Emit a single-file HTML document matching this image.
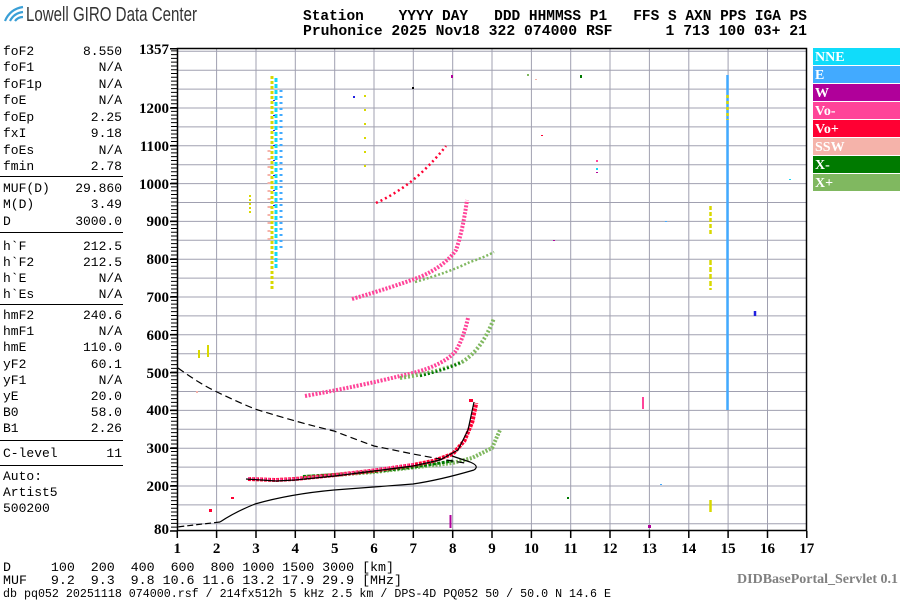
<!DOCTYPE html>
<html><head><meta charset="utf-8"><style>
html,body{margin:0;padding:0;background:#fff;}
svg{display:block}
.m{font-family:"Liberation Mono","DejaVu Sans Mono",monospace;}
.s{font-family:"Liberation Serif","DejaVu Serif",serif;font-weight:bold;}
</style></head><body>
<svg width="900" height="600" viewBox="0 0 900 600" xmlns="http://www.w3.org/2000/svg">
<g fill="none" stroke="#3a9fd6" stroke-width="2.2">
<path d="M5,21 Q10,9 23,7"/><path d="M10,21 Q14,13 23,12"/><path d="M15,21 Q18,17 23,17"/>
</g>
<text x="26" y="21" font-family="Liberation Sans,sans-serif" font-size="20" fill="#333" textLength="171" lengthAdjust="spacingAndGlyphs">Lowell GIRO Data Center</text>
<g class="m" font-size="14.5" font-weight="bold" fill="#000">
<text x="303" y="20" textLength="504" lengthAdjust="spacingAndGlyphs" xml:space="preserve">Station    YYYY DAY   DDD HHMMSS P1   FFS S AXN PPS IGA PS</text>
<text x="303" y="35" textLength="504" lengthAdjust="spacingAndGlyphs" xml:space="preserve">Pruhonice 2025 Nov18 322 074000 RSF      1 713 100 03+ 21</text>
</g>
<g class="m" font-size="13" fill="#000">
<text x="3" y="55">foF2</text><text x="122" y="55" text-anchor="end">8.550</text>
<text x="3" y="71">foF1</text><text x="122" y="71" text-anchor="end">N/A</text>
<text x="3" y="88">foF1p</text><text x="122" y="88" text-anchor="end">N/A</text>
<text x="3" y="104">foE</text><text x="122" y="104" text-anchor="end">N/A</text>
<text x="3" y="121">foEp</text><text x="122" y="121" text-anchor="end">2.25</text>
<text x="3" y="137">fxI</text><text x="122" y="137" text-anchor="end">9.18</text>
<text x="3" y="154">foEs</text><text x="122" y="154" text-anchor="end">N/A</text>
<text x="3" y="170">fmin</text><text x="122" y="170" text-anchor="end">2.78</text>
<text x="3" y="192">MUF(D)</text><text x="122" y="192" text-anchor="end">29.860</text>
<text x="3" y="208">M(D)</text><text x="122" y="208" text-anchor="end">3.49</text>
<text x="3" y="225">D</text><text x="122" y="225" text-anchor="end">3000.0</text>
<text x="3" y="250">h`F</text><text x="122" y="250" text-anchor="end">212.5</text>
<text x="3" y="266">h`F2</text><text x="122" y="266" text-anchor="end">212.5</text>
<text x="3" y="282">h`E</text><text x="122" y="282" text-anchor="end">N/A</text>
<text x="3" y="298">h`Es</text><text x="122" y="298" text-anchor="end">N/A</text>
<text x="3" y="319">hmF2</text><text x="122" y="319" text-anchor="end">240.6</text>
<text x="3" y="335">hmF1</text><text x="122" y="335" text-anchor="end">N/A</text>
<text x="3" y="351">hmE</text><text x="122" y="351" text-anchor="end">110.0</text>
<text x="3" y="368">yF2</text><text x="122" y="368" text-anchor="end">60.1</text>
<text x="3" y="384">yF1</text><text x="122" y="384" text-anchor="end">N/A</text>
<text x="3" y="400">yE</text><text x="122" y="400" text-anchor="end">20.0</text>
<text x="3" y="416">B0</text><text x="122" y="416" text-anchor="end">58.0</text>
<text x="3" y="432">B1</text><text x="122" y="432" text-anchor="end">2.26</text>
<text x="3" y="457">C-level</text><text x="122" y="457" text-anchor="end">11</text>
<text x="3" y="480">Auto:</text>
<text x="3" y="496">Artist5</text>
<text x="3" y="512">500200</text>
</g>
<g stroke="#000" stroke-width="1">
<line x1="0" y1="176.5" x2="123" y2="176.5"/>
<line x1="0" y1="232.5" x2="123" y2="232.5"/>
<line x1="0" y1="304.5" x2="123" y2="304.5"/>
<line x1="0" y1="440.5" x2="123" y2="440.5"/>
<line x1="0" y1="465.5" x2="123" y2="465.5"/>
</g>
<g stroke="#a0a0b0" stroke-width="1">
<path d="M216.6,48V531M256,48V531M295.3,48V531M334.7,48V531M374,48V531M413.3,48V531M452.7,48V531M492,48V531M531.4,48V531M570.7,48V531M610,48V531M649.4,48V531M688.8,48V531M728.1,48V531M767.5,48V531"/>
<path d="M177,523.8H807M177,504.9H807M177,486H807M177,467.1H807M177,448.2H807M177,429.3H807M177,410.4H807M177,391.5H807M177,372.6H807M177,353.7H807M177,334.8H807M177,315.9H807M177,297H807M177,278.1H807M177,259.2H807M177,240.3H807M177,221.4H807M177,202.5H807M177,183.6H807M177,164.7H807M177,145.8H807M177,126.9H807M177,108H807M177,89.1H807M177,70.2H807M177,51.3H807"/>
</g>
<rect x="177.5" y="48.5" width="629" height="482" fill="none" stroke="#000" stroke-width="1.5"/>
<line x1="174" y1="531.4" x2="174" y2="48" stroke="#000" stroke-width="6" stroke-dasharray="1 2.78"/>
<g stroke="#000" stroke-width="1.5">
<path d="M170,48.7H177M170,108H177M170,183.6H177M170,221.4H177M170,259.2H177M170,297H177M170,334.8H177M170,372.6H177M170,410.4H177M170,448.2H177M170,486H177M170,531H177M170,145.8H177"/>
<path d="M177.3,531V538M216.6,531V538M256,531V538M295.3,531V538M334.7,531V538M374,531V538M413.3,531V538M452.7,531V538M492,531V538M531.4,531V538M570.7,531V538M610,531V538M649.4,531V538M688.8,531V538M728.1,531V538M767.5,531V538M806.8,531V538"/>
</g>
<g class="s" font-size="15" fill="#000" text-anchor="end">
<text x="169" y="54">1357</text><text x="169" y="113">1200</text><text x="169" y="151">1100</text>
<text x="169" y="189">1000</text><text x="169" y="226">900</text><text x="169" y="264">800</text>
<text x="169" y="302">700</text><text x="169" y="340">600</text><text x="169" y="378">500</text>
<text x="169" y="415">400</text><text x="169" y="453">300</text><text x="169" y="491">200</text>
<text x="169" y="534">80</text>
</g>
<g class="s" font-size="15" fill="#000" text-anchor="middle">
<text x="177.3" y="553">1</text><text x="216.6" y="553">2</text><text x="256" y="553">3</text><text x="295.3" y="553">4</text>
<text x="334.7" y="553">5</text><text x="374" y="553">6</text><text x="413.3" y="553">7</text><text x="452.7" y="553">8</text>
<text x="492" y="553">9</text><text x="531.4" y="553">10</text><text x="570.7" y="553">11</text><text x="610" y="553">12</text>
<text x="649.4" y="553">13</text><text x="688.8" y="553">14</text><text x="728.1" y="553">15</text><text x="767.5" y="553">16</text>
<text x="806.8" y="553">17</text>
</g>
<g stroke-width="3" fill="none">
<line x1="272" y1="76" x2="272" y2="290" stroke="#d8d800" stroke-dasharray="3 2"/>
<line x1="276" y1="78" x2="276" y2="270" stroke="#10d8f8" stroke-dasharray="4 2"/>
<line x1="281" y1="90" x2="281" y2="250" stroke="#42aaff" stroke-dasharray="2 4"/>
<line x1="269" y1="150" x2="269" y2="240" stroke="#f5b3aa" stroke-dasharray="2 6"/>
<line x1="274" y1="100" x2="274" y2="220" stroke="#2020e0" stroke-width="2" stroke-dasharray="1 14"/>
<line x1="250" y1="195" x2="250" y2="215" stroke="#d8d800" stroke-width="2" stroke-dasharray="2 2"/>
<line x1="727.5" y1="75" x2="727.5" y2="410" stroke="#42aaff" stroke-width="2.5"/>
<line x1="727.5" y1="95" x2="727.5" y2="120" stroke="#d8d800" stroke-width="2.5" stroke-dasharray="3 3"/>
<line x1="710.5" y1="206" x2="710.5" y2="236" stroke="#d8d800" stroke-width="2.5" stroke-dasharray="4 2"/>
<line x1="710.5" y1="260" x2="710.5" y2="290" stroke="#d8d800" stroke-width="2.5" stroke-dasharray="5 2"/>
<line x1="710.5" y1="500" x2="710.5" y2="512" stroke="#d8d800" stroke-width="2.5"/>
<line x1="755" y1="311" x2="755" y2="316" stroke="#2020e0" stroke-width="2.5"/>
<line x1="450.5" y1="515" x2="450.5" y2="528" stroke="#b0009a" stroke-width="2"/>
<line x1="365" y1="95" x2="365" y2="175" stroke="#d8d800" stroke-width="2" stroke-dasharray="2 12"/>
</g>
<g fill="none" stroke-width="4">
<path d="M305,396 Q360,386 400,376 Q440,368 455,352 Q463,340 468,318" stroke="#ff4499" stroke-dasharray="2 1.5"/>
<path d="M400,378 Q440,372 462,362 Q482,350 494,318" stroke="#80b860" stroke-dasharray="2 2"/>
<path d="M420,376 Q445,370 462,362" stroke="#007a00" stroke-width="2.5" stroke-dasharray="2 2"/>
<path d="M352,299 Q390,288 420,277 Q445,266 456,250 Q463,230 467,200" stroke="#ff4499" stroke-dasharray="2 1.5"/>
<path d="M415,282 Q450,272 470,262 Q485,257 494,252" stroke="#80b860" stroke-width="2.5" stroke-dasharray="2 2"/>
<path d="M376,203 Q400,192 420,174 Q435,160 446,146" stroke="#ff0033" stroke-width="2.5" stroke-dasharray="2 3"/>
</g>
<g fill="none">
<path d="M303,477 L334.7,475 L374,472 L413.3,467.5 L452.7,463 L472,458 L492,448 L500,430" stroke="#80b860" stroke-width="4" stroke-dasharray="2 1.5"/>
<path d="M303,476.5 L334.7,474.7 L374,471.6 L413.3,467.1 L452.7,461" stroke="#007a00" stroke-width="3" stroke-dasharray="3 1.5"/>
<path d="M248,479 L276,480 L295,479 L335,475 L374,470.5 L413,465 L433,461 L452.7,454 L464.5,440.6 L472.4,421.7 L476.3,403" stroke="#ff0033" stroke-width="4" stroke-dasharray="3 1"/>
<path d="M248,478 L276,479.5 L295,478.5 L335,474.5 L374,469.5 L413,464" stroke="#ff4499" stroke-width="2" stroke-dasharray="2 2"/>
<path d="M246,479 L276,481 L295,480 L335,476 L374,471 L413,466 L440,460 L458,450 L468,430 L474,402" stroke="#000" stroke-width="1.2"/>
<path d="M474,470 Q480,466 470,462 L452,456" stroke="#000" stroke-width="1.2"/>
<path d="M474,470 Q440,480 413,484 L334,490 Q290,494 255,504 Q235,512 220,522" stroke="#000" stroke-width="1.2"/>
<path d="M220,522 L177,527" stroke="#000" stroke-width="1.2" stroke-dasharray="6 3"/>
<path d="M178,368 Q200,384 217,392 Q240,403 255,409 Q300,423 334,431 Q360,441 374,446 L413,454 L440,459 L465,463" stroke="#000" stroke-width="1.2" stroke-dasharray="7 4"/>
</g>
<g>
<rect x="469" y="399" width="4" height="3" fill="#ff0033"/>
<rect x="527" y="74" width="2" height="2" fill="#80b860"/>
<rect x="580" y="75" width="2" height="3" fill="#007a00"/>
<rect x="535" y="79" width="2" height="1" fill="#f5b3aa"/>
<rect x="541" y="135" width="2" height="1" fill="#ff0033"/>
<rect x="596" y="160" width="2" height="2" fill="#ff4499"/>
<rect x="596" y="168" width="2" height="2" fill="#10d8f8"/>
<rect x="596" y="172" width="2" height="1" fill="#b0009a"/>
<rect x="789" y="179" width="2" height="1" fill="#10d8f8"/>
<rect x="451" y="75" width="2" height="3" fill="#b0009a"/>
<rect x="642" y="397" width="2" height="12" fill="#ff4499"/>
<rect x="567" y="497" width="2" height="2" fill="#007a00"/>
<rect x="412" y="87" width="2" height="2" fill="#000"/>
<rect x="553" y="240" width="2" height="1" fill="#b0009a"/>
<rect x="665" y="221" width="2" height="1" fill="#42aaff"/>
<rect x="648" y="525" width="3" height="3" fill="#b0009a"/>
<rect x="209" y="509" width="3" height="3" fill="#ff0033"/>
<rect x="231" y="497" width="3" height="2" fill="#ff0033"/>
<rect x="196" y="391" width="2" height="2" fill="#f5b3aa"/>
<rect x="198" y="350" width="2" height="8" fill="#d8d800"/>
<rect x="207" y="345" width="2" height="12" fill="#d8d800"/>
<rect x="353" y="96" width="2" height="2" fill="#2020e0"/>
<rect x="660" y="484" width="2" height="1" fill="#42aaff"/>
</g>
<g>
<rect x="813" y="48" width="87" height="17" fill="#10dcfa"/>
<rect x="813" y="66" width="87" height="17" fill="#42aaff"/>
<rect x="813" y="84" width="87" height="17" fill="#b0009a"/>
<rect x="813" y="102" width="87" height="17" fill="#ff4499"/>
<rect x="813" y="120" width="87" height="17" fill="#ff0033"/>
<rect x="813" y="138" width="87" height="17" fill="#f5b3aa"/>
<rect x="813" y="156" width="87" height="17" fill="#007a00"/>
<rect x="813" y="174" width="87" height="17" fill="#80b860"/>
</g>
<g class="s" font-size="14" fill="#fff">
<text x="815" y="61">NNE</text><text x="815" y="79">E</text><text x="815" y="97">W</text>
<text x="815" y="115">Vo-</text><text x="815" y="133">Vo+</text><text x="815" y="151">SSW</text>
<text x="815" y="169">X-</text><text x="815" y="187">X+</text>
</g>
<g class="m" font-size="13.3" fill="#000">
<text x="3" y="571" xml:space="preserve">D     100  200  400  600  800 1000 1500 3000 [km]</text>
<text x="3" y="584" xml:space="preserve">MUF   9.2  9.3  9.8 10.6 11.6 13.2 17.9 29.9 [MHz]</text>
<text x="3" y="597" font-size="12" textLength="608" lengthAdjust="spacingAndGlyphs" xml:space="preserve">db pq052 20251118 074000.rsf / 214fx512h 5 kHz 2.5 km / DPS-4D PQ052 50 / 50.0 N 14.6 E</text>
</g>
<text class="s" x="898" y="583" font-size="14" fill="#808080" text-anchor="end">DIDBasePortal_Servlet 0.1</text>
</svg>
</body></html>
